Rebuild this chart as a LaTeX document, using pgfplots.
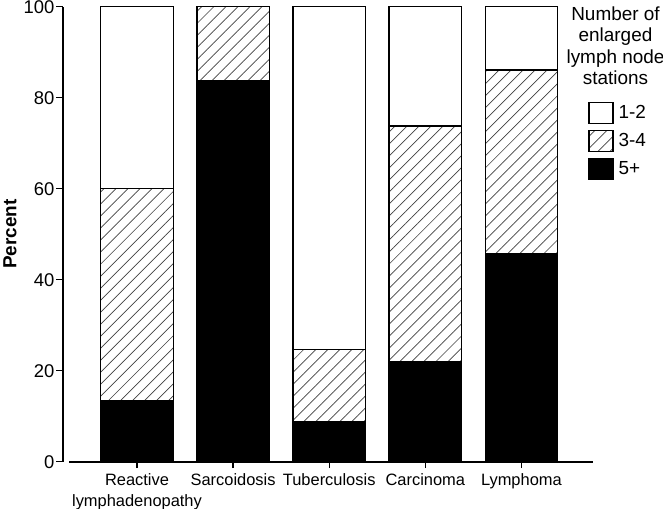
\documentclass[border=0pt]{standalone}
\usepackage{pgfplots}
\pgfplotsset{compat=1.18}
\usepackage{fontspec}
\setmainfont{Liberation Sans}
\usetikzlibrary{patterns.meta}

\begin{document}
\begin{tikzpicture}
\begin{axis}[
  name=ax,
  scale only axis, width=530.3bp, height=455bp,
  xmin=-0.773, xmax=4.745, ymin=0, ymax=100,
  axis x line*=bottom, axis y line*=left,
  x axis line style={line width=1.8bp, shorten <=6.6bp},
  y axis line style={line width=1.8bp},
  ybar stacked, bar width=0.754,
  xtick={0,1,2,3,4},
  xticklabels={{Reactive\\lymphadenopathy},Sarcoidosis,Tuberculosis,Carcinoma,Lymphoma},
  xticklabel style={align=center, font=\fontsize{16.5}{21}\selectfont, yshift=-2bp},
  ytick={0,20,...,100},
  yticklabel style={font=\fontsize{18.5}{22}\selectfont, inner sep=1.5bp},
  /pgf/number format/assume math mode=true,
  tick align=outside,
  major tick length=6.5bp,
  tick style={line width=1.3bp, black},
  ylabel={\bfseries Percent},
  every axis y label/.style={at={(axis description cs:-0.0994,0.5)}, rotate=90, anchor=center, font=\fontsize{19}{22}\selectfont},
  legend style={draw=none, fill=none, at={(axis description cs:0.9906,0.7912)}, anchor=north west,
    font=\fontsize{19}{21}\selectfont, inner sep=0pt, row sep=5.5bp, cells={anchor=west},
    /tikz/every odd column/.append style={column sep=3bp}},
  reverse legend,
  legend image code/.code={\draw[#1, line width=1.3bp] (0bp,-10.5bp) rectangle (24bp,10.5bp);},
  clip=false,
]
\addplot[fill=black, draw=black, line width=1.3bp] coordinates {(0,13.5) (1,83.7) (2,8.8) (3,22.0) (4,45.8)};
\addplot[pattern={Lines[angle=45, distance=8.5bp, line width=0.7bp]}, pattern color=black!75, draw=black, line width=1.3bp] coordinates {(0,46.5) (1,16.3) (2,15.9) (3,51.8) (4,40.3)};
\addplot[fill=white, draw=black, line width=1.3bp] coordinates {(0,40.0) (1,0) (2,75.3) (3,26.2) (4,13.9)};
\legend{5+,3-4,1-2}
\end{axis}
\node[align=center, anchor=north, inner sep=0pt, font=\fontsize{19}{21.3}\selectfont] at ([xshift=552.8bp]ax.north west) {Number of\\enlarged\\lymph node\\stations};
\pgfresetboundingbox
\path ([shift={(-62.7bp,6.7bp)}]ax.north west) rectangle ([shift={(70bp,-47.3bp)}]ax.south east);
\end{tikzpicture}
\end{document}
